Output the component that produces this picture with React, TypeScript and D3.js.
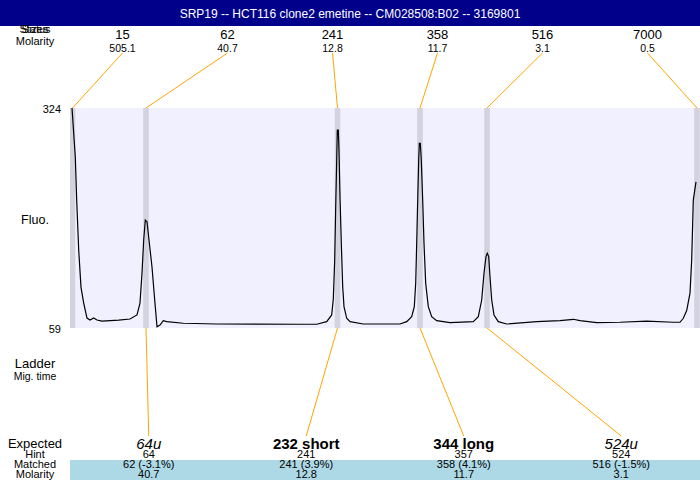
import React from "react";
import * as d3 from "d3";

const title = "SRP19 -- HCT116 clone2 emetine -- CM028508:B02 -- 3169801";
const ladderSizes = ["15", "62", "241", "358", "516", "7000"];
const ladderMolarity = ["505.1", "40.7", "12.8", "11.7", "3.1", "0.5"];
const ladderTimes = [18.25, 25.6, 44.75, 53.0, 59.7, 80.7];

const expectedLabels = ["64u", "232 short", "344 long", "524u"];
const hints = ["64", "241", "357", "524"];
const matched = ["62 (-3.1%)", "241 (3.9%)", "358 (4.1%)", "516 (-1.5%)"];
const matchedMolarity = ["40.7", "12.8", "11.7", "3.1"];
const matchedLadderIndex = [1, 2, 3, 4];

const yTicks = [59, 324];

const traceTime = [
  18.2, 18.53, 18.67, 18.87, 19.1, 19.37, 19.7, 20.0, 20.37, 20.7, 21.2, 22.87, 24.0, 24.7, 25.0, 25.2,
  25.37, 25.53, 25.7, 25.9, 26.2, 26.47, 26.7, 27.0, 27.33, 27.67, 29.33, 32.67, 41.0, 42.67, 43.67,
  44.17, 44.33, 44.47, 44.57, 44.67, 44.73, 44.83, 44.9, 45.0, 45.13, 45.27, 45.4, 45.67, 46.0, 47.33,
  51.0, 51.67, 52.17, 52.43, 52.57, 52.67, 52.77, 52.87, 52.93, 53.03, 53.13, 53.27, 53.4, 53.57, 53.83,
  54.17, 54.67, 56.0, 58.33, 58.83, 59.17, 59.4, 59.6, 59.73, 59.87, 60.0, 60.17, 60.4, 60.83, 61.67,
  64.67, 67.0, 68.33, 69.0, 70.67, 73.0, 75.67, 78.33, 79.0, 79.33, 79.67, 80.0, 80.17, 80.33, 80.6,
];
const traceFluo = [
  324, 265, 213, 153, 108, 89, 71, 68.6, 71, 68.6, 67.4, 68.6, 69.8, 74.7, 89, 125,
  165, 189, 187, 165, 132.5, 92.7, 60.5, 62.6, 67.8, 66.6, 64.7, 63.8, 63.5, 63.5, 66.6,
  74.7, 94, 141, 205, 261, 297.5, 297.5, 273, 217, 161, 108.7, 84.7, 70.7, 66.6, 63.8,
  63.8, 66.6, 72.6, 84.7, 112.8, 161, 213, 261, 281.5, 281.5, 261, 213, 161, 112.8, 84.7,
  72.6, 67.8, 65.4, 66.6, 72.6, 92.7, 125, 145, 149, 145, 120.8, 92.7, 74.7, 66.6, 63.8,
  66.6, 67.8, 69.5, 67.8, 65.4, 65.9, 67.4, 65.9, 65.9, 70.7, 80, 101, 141, 213, 235,
];

const W = 700;
const H = 480;
const plotL = 70;
const plotR = 700;
const plotT = 108;
const plotB = 328;
const font = "'Liberation Sans', Arial, sans-serif";

export default function App() {
  const x = d3.scaleLinear().domain([18, 81]).range([plotL, plotR]);
  const y = d3.scaleLinear().domain([59, 324]).range([plotB, plotT]);
  const topBand = d3.scaleBand<number>().domain(d3.range(ladderSizes.length)).range([plotL, plotR]);
  const botBand = d3.scaleBand<number>().domain(d3.range(expectedLabels.length)).range([plotL, plotR]);
  const pts = traceTime.map((t, i) => [t, traceFluo[i]] as [number, number]);
  const line = d3
    .line<[number, number]>()
    .x((d) => x(d[0]))
    .y((d) => y(d[1]));
  const bandHalf = 0.28;
  const leftX = 35;

  return (
    <svg
      width={W}
      height={H}
      style={{ position: "absolute", left: 0, top: 0, fontFamily: font }}
    >
      <defs>
        <clipPath id="plotClip">
          <rect x={plotL} y={plotT} width={plotR - plotL} height={plotB - plotT} />
        </clipPath>
      </defs>
      <rect x={0} y={0} width={W} height={H} fill="#fff" />
      {/* header */}
      <rect x={0} y={0} width={W} height={26} fill="#00008B" />
      <text x={W / 2} y={18} fill="#fff" fontSize={12} textAnchor="middle">
        {title}
      </text>

      {/* top left labels */}
      <text x={leftX} y={33} fontSize={11} textAnchor="middle">Status</text>
      <text x={leftX} y={33} fontSize={11} textAnchor="middle">Sizes</text>
      <text x={leftX} y={45} fontSize={11} textAnchor="middle">Molarity</text>

      {ladderSizes.map((s, i) => {
        const cx = topBand(i)! + topBand.bandwidth() / 2;
        return (
          <g key={"l" + i}>
            <text x={cx} y={39} fontSize={13} textAnchor="middle">{s}</text>
            <text x={cx} y={51.5} fontSize={10.5} textAnchor="middle">{ladderMolarity[i]}</text>
            <line
              x1={cx}
              y1={53}
              x2={Math.min(x(ladderTimes[i]), plotR - 2)}
              y2={plotT}
              stroke="#FFA500"
              strokeWidth={1}
            />
          </g>
        );
      })}

      {/* plot area */}
      <rect x={plotL} y={plotT} width={plotR - plotL} height={plotB - plotT} fill="#F0F0FF" />
      <g clipPath="url(#plotClip)">
        {ladderTimes.map((t, i) => (
          <rect
            key={"b" + i}
            x={x(t - bandHalf)}
            y={plotT}
            width={x(t + bandHalf) - x(t - bandHalf)}
            height={plotB - plotT}
            fill="#D3D3E0"
          />
        ))}
        <path d={line(pts) || ""} fill="none" stroke="#000" strokeWidth={1.2} />
      </g>

      {yTicks.map((v) => (
        <text key={"y" + v} x={61} y={y(v) + 5} fontSize={11} textAnchor="end">
          {v}
        </text>
      ))}
      <text x={leftX} y={224} fontSize={12.5} textAnchor="middle">Fluo.</text>
      <text x={leftX} y={368} fontSize={13} textAnchor="middle">Ladder</text>
      <text x={leftX} y={380} fontSize={10.5} textAnchor="middle">Mig. time</text>

      {/* bottom */}
      <rect x={plotL} y={460} width={plotR - plotL} height={20} fill="#ADD8E6" />
      <text x={leftX} y={448} fontSize={13} textAnchor="middle">Expected</text>
      <text x={leftX} y={457.5} fontSize={11} textAnchor="middle">Hint</text>
      <text x={leftX} y={468} fontSize={11} textAnchor="middle">Matched</text>
      <text x={leftX} y={478} fontSize={11} textAnchor="middle">Molarity</text>

      {expectedLabels.map((lab, i) => {
        const cx = botBand(i)! + botBand.bandwidth() / 2;
        const italic = lab.endsWith("u");
        return (
          <g key={"e" + i}>
            <line
              x1={x(ladderTimes[matchedLadderIndex[i]])}
              y1={plotB}
              x2={cx}
              y2={436}
              stroke="#FFA500"
              strokeWidth={1}
            />
            <text
              x={cx}
              y={448.5}
              fontSize={15}
              textAnchor="middle"
              fontStyle={italic ? "italic" : "normal"}
              fontWeight={italic ? "normal" : "bold"}
            >
              {lab}
            </text>
            <text x={cx} y={457.5} fontSize={11} textAnchor="middle">{hints[i]}</text>
            <text x={cx} y={468} fontSize={11} textAnchor="middle">{matched[i]}</text>
            <text x={cx} y={478} fontSize={11} textAnchor="middle">{matchedMolarity[i]}</text>
          </g>
        );
      })}
    </svg>
  );
}
